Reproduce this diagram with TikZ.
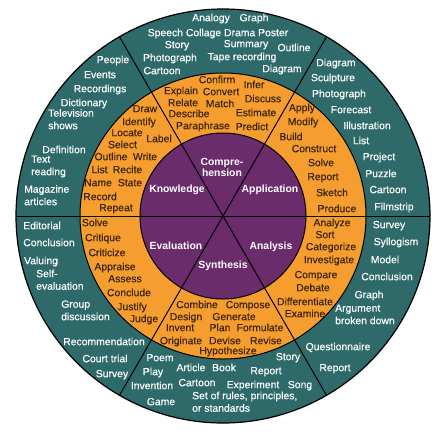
\documentclass[tikz,border=0pt]{standalone}
\usepackage{fontspec}
\setmainfont{Liberation Sans}
\newfontfamily\wheelfont{Liberation Sans}[FakeBold=0.4]
\usepackage{tikz}
\usetikzlibrary{calc}
\usepackage{xcolor}
\definecolor{bloomteal}{HTML}{2E6A69}
\definecolor{bloomorange}{HTML}{F69D30}
\definecolor{bloompurple}{HTML}{6B2C6B}
\definecolor{bloomink}{HTML}{3A2408}
\tikzset{
  ow/.style={text=bloomink, font=\wheelfont\fontsize{10.4}{12.5}\selectfont, inner sep=0pt, text height=7.4pt, text depth=1pt},
  tw/.style={text=white, font=\wheelfont\fontsize{10.4}{12.5}\selectfont, inner sep=0pt, text height=7.4pt, text depth=1pt},
  pw/.style={text=white, font=\bfseries\fontsize{10.4}{11.5}\selectfont, inner sep=0pt, text height=7.4pt, text depth=1pt},
  twl/.style={tw, anchor=west, align=left},
}
\begin{document}
\begin{tikzpicture}[x=1pt,y=-1pt]
\useasboundingbox (0,0) rectangle (446,442);
\coordinate (c) at (223,216);
\fill [bloomteal] (c) circle [radius=207];
\fill [bloomorange] (c) circle [radius=143];
\fill [bloompurple] (c) circle [radius=83];
\draw [line width=1.2pt] (c) circle [radius=207];
\draw [line width=1pt] (c) circle [radius=143] (c) circle [radius=83];
\foreach \a in {0,60,120}
  \draw [line width=1pt] ($(c)+(\a:207)$) -- ($(c)+(\a+180:207)$);
% centre
\node [pw, align=center, text height=, text depth=] (pcomp) at (222,167.5) {Compre-\\hension};
\node [pw] (pknow) at (177,189) {Knowledge};
\node [pw] (pappl) at (270,189) {Application};
\node [pw] (peval) at (176,246) {Evaluation};
\node [pw] (panal) at (271,246) {Analysis};
\node [pw] (psynt) at (223,265) {Synthesis};
% knowledge
\node [ow] (kdraw) at (145,109) {Draw};
\node [ow] (kiden) at (139,122) {Identify};
\node [ow] (kloca) at (127,133) {Locate};
\node [ow] (klabe) at (159,139) {Label};
\node [ow] (ksele) at (122.5,145) {Select};
\node [ow] (koutl) at (111,157) {Outline};
\node [ow] (kwrit) at (145,157) {Write};
\node [ow] (klist) at (99.5,170) {List};
\node [ow] (kreci) at (127.5,170) {Recite};
\node [ow] (kname) at (98,183) {Name};
\node [ow] (kstat) at (130,183) {State};
\node [ow] (kreco) at (100,197) {Record};
\node [ow] (krepe) at (116,208) {Repeat};
\node [tw] (tpeop) at (113,60) {People};
\node [tw] (tevent) at (100,75) {Events};
\node [tw] (trecs) at (100,89) {Recordings};
\node [tw] (tdict) at (84,103) {Dictionary};
\node [twl] (ttele) at (48,126) {Television\\shows};
\node [tw] (tdefi) at (64,150) {Definition};
\node [twl] (ttext) at (31,172) {Text\\reading};
\node [twl] (tmaga) at (24,202) {Magazine\\articles};
% comprehension
\node [ow] (cconf) at (217,80) {Confirm};
\node [ow] (cinfe) at (254,85) {Infer};
\node [ow] (cexpl) at (181,91) {Explain};
\node [ow] (cconv) at (221,92) {Convert};
\node [ow] (cdisc) at (263,99) {Discuss};
\node [ow] (crela) at (183,103) {Relate};
\node [ow] (cmatc) at (220,104) {Match};
\node [ow] (cdesc) at (189,114) {Describe};
\node [ow] (cesti) at (256,113) {Estimate};
\node [ow] (cpara) at (203,126) {Paraphrase};
\node [ow] (cpred) at (252,127) {Predict};
\node [tw] (tanal) at (211,18) {Analogy};
\node [tw] (tgrap) at (254,18) {Graph};
\node [tw] (tspee) at (218,33) {Speech Collage Drama Poster};
\node [tw] (tstor) at (177,45) {Story};
\node [tw] (tsumm) at (246,44) {Summary};
\node [tw] (toutl) at (294,48) {Outline};
\node [tw] (tphot) at (170,58) {Photograph};
\node [tw] (ttape) at (242,57) {Tape recording};
\node [tw] (tcart) at (162,71) {Cartoon};
\node [tw] (tdiag) at (282,69) {Diagram};
% application
\node [ow] (aappl) at (302,108) {Apply};
\node [ow] (amodi) at (303,122) {Modify};
\node [ow] (abuil) at (291,137) {Build};
\node [ow] (acons) at (314,149) {Construct};
\node [ow] (asolv) at (321,163) {Solve};
\node [ow] (arepo) at (323,177) {Report};
\node [ow] (asket) at (332,193) {Sketch};
\node [ow] (aprod) at (337,209) {Produce};
\node [tw] (adiag) at (336,63) {Diagram};
\node [tw] (ascul) at (333,78) {Sculpture};
\node [tw] (aphot) at (339,94) {Photograph};
\node [tw] (afore) at (351,110) {Forecast};
\node [tw] (aillu) at (367,126) {Illustration};
\node [tw] (alist) at (361,141) {List};
\node [tw] (aproj) at (379,157) {Project};
\node [tw] (apuzz) at (381,174) {Puzzle};
\node [tw] (acart) at (388,190) {Cartoon};
\node [tw] (afilm) at (394,207) {Filmstrip};
% analysis
\node [ow] (nanal) at (332,223) {Analyze};
\node [ow] (nsort) at (325,235) {Sort};
\node [ow] (ncate) at (331,247) {Categorize};
\node [ow] (ninve) at (329,260) {Investigate};
\node [ow] (ncomp) at (316,275) {Compare};
\node [ow] (ndeba) at (313,288) {Debate};
\node [ow] (ndiff) at (305,302) {Differentiate};
\node [ow] (nexam) at (305,314) {Examine};
\node [tw] (nsurv) at (389,225) {Survey};
\node [tw] (nsyll) at (396,242) {Syllogism};
\node [tw] (nmode) at (385,260) {Model};
\node [tw] (nconc) at (387,277) {Conclusion};
\node [tw] (ngrap) at (369,295) {Graph};
\node [twl] (nargu) at (335,321) {Argument\\broken down};
\node [tw] (nques) at (338,347) {Questionnaire};
\node [tw] (nrepo) at (335,368) {Report};
% evaluation
\node [ow] (esolv) at (95,223) {Solve};
\node [ow] (ecriq) at (103,238) {Critique};
\node [ow] (ecrit) at (107,253) {Criticize};
\node [ow] (eappr) at (115,267) {Appraise};
\node [ow] (easse) at (125,279) {Assess};
\node [ow] (econc) at (129,293) {Conclude};
\node [ow] (ejust) at (132,307) {Justify};
\node [ow] (ejudg) at (144,319) {Judge};
\node [tw] (eedit) at (42,226) {Editorial};
\node [tw] (econl) at (49,243) {Conclusion};
\node [tw] (evalu) at (41,261) {Valuing};
\node [twl] (eself) at (36,286.5) {Self-\\evaluation};
\node [twl] (egrou) at (61,317) {Group\\discussion};
\node [tw] (ereco) at (104,342) {Recommendation};
\node [tw] (ecour) at (105,359) {Court trial};
\node [tw] (esurv) at (112,374) {Survey};
% synthesis
\node [ow] (scomb) at (197,305) {Combine};
\node [ow] (scomp) at (248,305) {Compose};
\node [ow] (sdesi) at (186,317) {Design};
\node [ow] (sgene) at (234,317) {Generate};
\node [ow] (sinve) at (180,328) {Invent};
\node [ow] (splan) at (220,328) {Plan};
\node [ow] (sform) at (260,328) {Formulate};
\node [ow] (sorig) at (181,341) {Originate};
\node [ow] (sdevi) at (225,341) {Devise};
\node [ow] (srevi) at (266,341) {Revise};
\node [ow] (shypo) at (228,351) {Hypothesize};
\node [tw] (spoem) at (160,358) {Poem};
\node [tw] (sstor) at (288,357) {Story};
\node [tw] (splay) at (153,372) {Play};
\node [tw] (sarti) at (191,368) {Article};
\node [tw] (sbook) at (224,368) {Book};
\node [tw] (srepo) at (266,371) {Report};
\node [tw] (sinvt) at (152,386) {Invention};
\node [tw] (scart) at (197,383) {Cartoon};
\node [tw] (sexpe) at (253,385) {Experiment};
\node [tw] (ssong) at (300,385) {Song};
\node [tw] (sgame) at (161,402) {Game};
\node [twl] (srule) at (192,408.5) {Set of rules, principles,\\or standards};
\end{tikzpicture}
\end{document}
